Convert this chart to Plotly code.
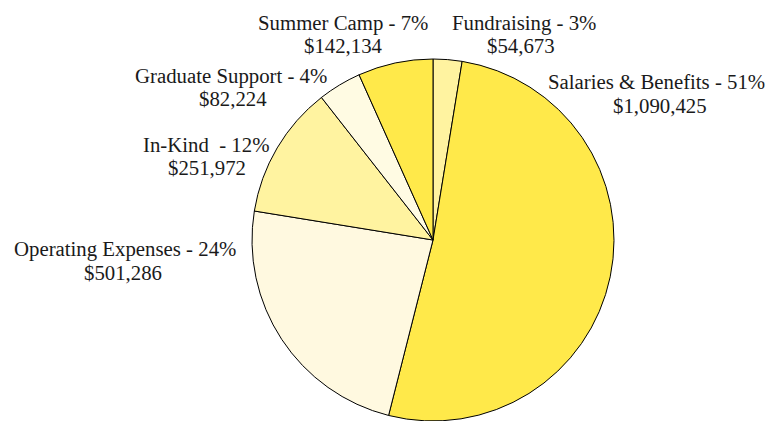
import plotly.graph_objects as go

categories = ["Fundraising", "Salaries & Benefits", "Operating Expenses", "In-Kind\u00a0", "Graduate Support", "Summer Camp"]
amounts = [54673, 1090425, 501286, 251972, 82224, 142134]
colors = ["#FFF3A0", "#FFE94A", "#FFF9E0", "#FFF3A0", "#FFFBE3", "#FFE94A"]

# label positions in screen pixels: (x centre line1, y line1, x centre line2, y line2)
label_pos = [(524, 22, 521, 45), (656, 81, 660, 104), (125, 248, 123, 271),
             (206, 143, 207, 166), (231, 75, 233, 98), (343, 22, 343, 45)]

OFF = 8  # page body margin offset
W, H = 774 - OFF, 421 - OFF
total = sum(amounts)

cx, cy, r = 433 - OFF, 240 - OFF, 181

fig = go.Figure(go.Pie(
    labels=categories,
    values=amounts,
    sort=False,
    direction="clockwise",
    rotation=0,
    textinfo="none",
    hoverinfo="label+value+percent",
    marker=dict(colors=colors, line=dict(color="#000000", width=1)),
    domain=dict(x=[(cx - r) / W, (cx + r) / W], y=[max(0, (H - cy - r) / H), (H - cy + r) / H]),
    showlegend=False,
))

font = dict(family="Liberation Serif, DejaVu Serif, serif", size=20.8, color="#1a1a1a")
for name, val, (x1, y1, x2, y2) in zip(categories, amounts, label_pos):
    pct = round(val / total * 100)
    for txt, px, py in ((f"{name} - {pct}%", x1, y1), (f"${val:,}", x2, y2)):
        fig.add_annotation(
            x=(px - OFF) / W, y=1 - (py - OFF + 1) / H, xref="paper", yref="paper",
            text=txt, showarrow=False, xanchor="center", yanchor="middle",
            font=font,
        )

fig.update_layout(
    width=W, height=H,
    margin=dict(l=0, r=0, t=0, b=0),
    paper_bgcolor="white", plot_bgcolor="white",
)

fig.write_html("out.html")
